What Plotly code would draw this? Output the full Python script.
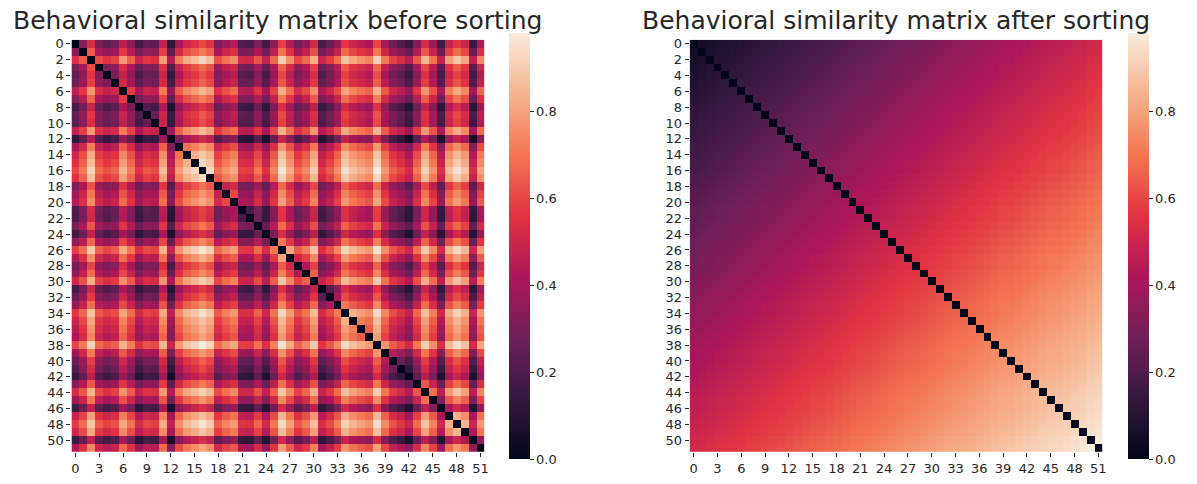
import numpy as np
import plotly.graph_objects as go

# Per-item behavioural level read from the stripes of the unsorted matrix (index 0..51)
item_index = list(range(52))
item_level = [0.22, 0.44, 0.85, 0.37, 0.26, 0.33, 0.70, 0.46, 0.13, 0.28,
              0.24, 0.72, 0.04, 0.59, 0.79, 0.87, 0.99, 0.88, 0.39, 0.55,
              0.65, 0.19, 0.17, 0.41, 0.11, 0.48, 0.94, 0.66, 0.35, 0.50,
              0.81, 0.15, 0.30, 0.52, 0.90, 0.76, 0.68, 0.61, 0.97, 0.57,
              0.32, 0.21, 0.06, 0.43, 0.83, 0.54, 0.10, 0.74, 0.92, 0.77,
              0.08, 0.63]

x_tick_vals = list(range(0, 52, 3))
y_tick_vals = list(range(0, 52, 2))
cbar_ticks = [0.0, 0.2, 0.4, 0.6, 0.8]
cbar_text = ["0.0", "0.2", "0.4", "0.6", "0.8"]
titles = ["Behavioral similarity matrix before sorting",
          "Behavioral similarity matrix after sorting"]


def sim_matrix(levels):
    a = np.asarray(levels, dtype=float)
    m = (a[:, None] + a[None, :]) / 2.0
    np.fill_diagonal(m, 0.0)
    return m


before = sim_matrix(item_level)
after = sim_matrix(sorted(item_level))
zmax = float(before.max())

rocket = [
    [0.0, "#03051a"],
    [1 / 7, "#35193e"],
    [2 / 7, "#701f57"],
    [3 / 7, "#ad1759"],
    [4 / 7, "#e13342"],
    [5 / 7, "#f37651"],
    [6 / 7, "#f6b48f"],
    [1.0, "#faebdd"],
]

W, H = 1197, 484
FONT = "DejaVu Sans"
TXT = "#262626"

fig = go.Figure()

panels = [
    dict(z=before, x0=71.7, x1=486.0, cbx=511.0, xa="x", ya="y"),
    dict(z=after, x0=692.0, x1=1106.0, cbx=1132.0, xa="x2", ya="y2"),
]
top, bottom = 37.0, 452.0

for i, p in enumerate(panels):
    fig.add_trace(go.Heatmap(
        z=p["z"], x=item_index, y=item_index,
        colorscale=rocket, zmin=0.0, zmax=zmax,
        xaxis=p["xa"], yaxis=p["ya"],
        colorbar=dict(
            x=p["cbx"] / W, xanchor="left", xref="paper",
            y=(H - (32 + 458) / 2) / H, yanchor="middle",
            lenmode="pixels", len=426, thickness=21,
            xpad=0, ypad=0,
            outlinewidth=0, ticks="outside", ticklen=4, tickwidth=1,
            tickcolor=TXT, tickvals=cbar_ticks, ticktext=cbar_text,
            tickfont=dict(family=FONT, size=13, color=TXT),
        ),
        hoverinfo="skip",
    ))
    axis_common = dict(showgrid=False, zeroline=False, showline=False,
                       ticks="outside", ticklen=4, tickwidth=1, tickcolor=TXT,
                       tickfont=dict(family=FONT, size=13, color=TXT))
    xkey = "xaxis" if i == 0 else "xaxis2"
    ykey = "yaxis" if i == 0 else "yaxis2"
    fig.update_layout(**{
        xkey: dict(domain=[p["x0"] / W, p["x1"] / W], anchor=p["ya"],
                   tickmode="array", tickvals=x_tick_vals,
                   ticktext=[str(v) for v in x_tick_vals],
                   range=[-0.5, 51.5], tickangle=0, **axis_common),
        ykey: dict(domain=[(H - bottom) / H, (H - top) / H], anchor=p["xa"],
                   tickmode="array", tickvals=y_tick_vals,
                   ticktext=[str(v) for v in y_tick_vals],
                   range=[51.5, -0.5], **axis_common),
    })
    fig.add_annotation(
        text=titles[i], xref="paper", yref="paper",
        x=(p["x0"] + p["x1"]) / 2 / W, y=1 - 18 / H,
        xanchor="center", yanchor="middle", showarrow=False,
        font=dict(family=FONT, size=25, color=TXT),
    )

fig.update_layout(
    width=W, height=H,
    margin=dict(l=0, r=0, t=0, b=0),
    paper_bgcolor="white", plot_bgcolor="white",
    showlegend=False,
)

fig.write_html("out.html")
